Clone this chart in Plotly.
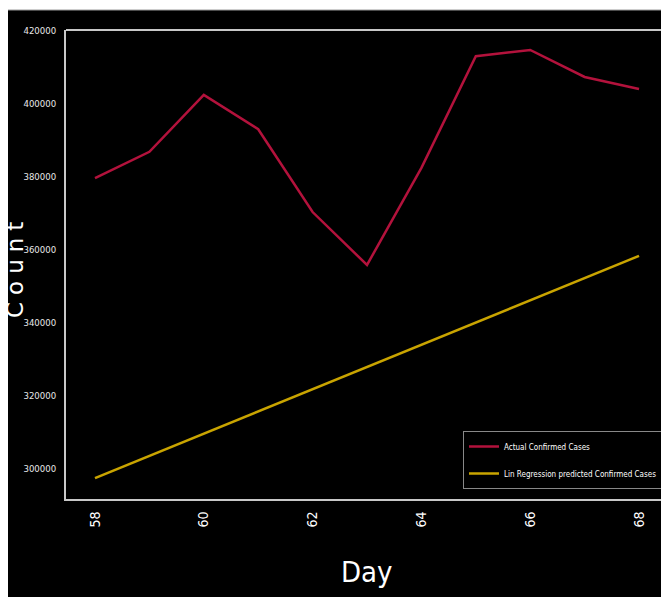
import plotly.graph_objects as go

# Day index and confirmed-case counts
days = [58, 59, 60, 61, 62, 63, 64, 65, 66, 67, 68]
actual_cases = [379700, 386900, 402500, 393100, 370400, 355900, 382500, 413100, 414800, 407400, 404100]
predicted_cases = [297500, 303600, 309700, 315800, 321900, 327900, 334000, 340100, 346200, 352300, 358400]

y_ticks = [300000, 320000, 340000, 360000, 380000, 400000, 420000]
x_ticks = [58, 60, 62, 64, 66, 68]

NARROW = "Liberation Sans Narrow, DejaVu Sans Condensed, Arial Narrow, sans-serif"
AXIS_GREY = "#c8c8c8"

# plot area geometry in pixels (used for paper-relative placements)
PLOT_W, PLOT_H = 595, 469
M_L, M_T, M_B = 66, 30, 98

fig = go.Figure()
fig.add_trace(go.Scatter(
    x=days, y=actual_cases, mode="lines", name="Actual Confirmed Cases",
    legendgroup="actual",
    line=dict(color="#b3123c", width=2.5),
))
fig.add_trace(go.Scatter(
    x=days, y=predicted_cases, mode="lines", name="Lin Regression predicted Confirmed Cases",
    legendgroup="predicted",
    line=dict(color="#c9a400", width=2.5),
))

fig.update_layout(
    width=661, height=597,
    margin=dict(l=M_L, r=0, t=M_T, b=M_B, autoexpand=False),
    paper_bgcolor="black", plot_bgcolor="black",
    showlegend=True,
    legend=dict(
        x=(463 - M_L) / PLOT_W, y=(M_T + PLOT_H - 431) / PLOT_H, xanchor="left", yanchor="top",
        bgcolor="black", bordercolor="#888888", borderwidth=1,
        font=dict(family=NARROW, size=8, color="white"),
        itemwidth=30, tracegroupgap=8,
    ),
    xaxis=dict(
        range=[57.467, 68.404], tickvals=x_ticks, ticktext=[str(v) for v in x_ticks],
        tickangle=-90, showgrid=False, zeroline=False,
        showline=True, linecolor=AXIS_GREY, linewidth=2,
        tickfont=dict(family=NARROW, size=14, color="white"),
        ticks="", ticklabelstandoff=5,
    ),
    yaxis=dict(
        range=[291781, 420274], tickvals=y_ticks, ticktext=[str(v) for v in y_ticks],
        showgrid=False, zeroline=False,
        showline=True, linecolor=AXIS_GREY, linewidth=2,
        tickfont=dict(family=NARROW, size=9.5, color="#e8e8e8"),
        ticks="", ticklabelstandoff=6,
    ),
    annotations=[
        dict(text="Day", xref="paper", yref="paper",
             x=(367 - M_L) / PLOT_W, y=-(572 - M_T - PLOT_H) / PLOT_H,
             xanchor="center", yanchor="middle", showarrow=False,
             font=dict(family=NARROW, size=29, color="white")),
        dict(text='<span style="letter-spacing:7px">Count</span>', xref="paper", yref="paper",
             x=(15 - M_L) / PLOT_W, y=(M_T + PLOT_H - 267) / PLOT_H,
             xanchor="center", yanchor="middle", showarrow=False, textangle=-90,
             font=dict(family="DejaVu Sans", size=23, color="white")),
    ],
    shapes=[
        # top frame line
        dict(type="line", xref="paper", yref="paper", x0=0, x1=1, y0=1, y1=1,
             line=dict(color=AXIS_GREY, width=2)),
        # light edges around the dark canvas
        dict(type="rect", xref="paper", yref="paper", x0=-M_L / PLOT_W, x1=1,
             y0=1 + 20 / PLOT_H, y1=1 + 30 / PLOT_H,
             fillcolor="white", line=dict(width=0)),
        dict(type="line", xref="paper", yref="paper", x0=-58 / PLOT_W, x1=1,
             y0=1 + 20 / PLOT_H, y1=1 + 20 / PLOT_H,
             line=dict(color="#9a9a9a", width=1)),
        dict(type="rect", xref="paper", yref="paper", x0=-M_L / PLOT_W, x1=-58 / PLOT_W,
             y0=-M_B / PLOT_H, y1=1 + 30 / PLOT_H,
             fillcolor="white", line=dict(width=0)),
    ],
)

fig.write_html("out.html")
